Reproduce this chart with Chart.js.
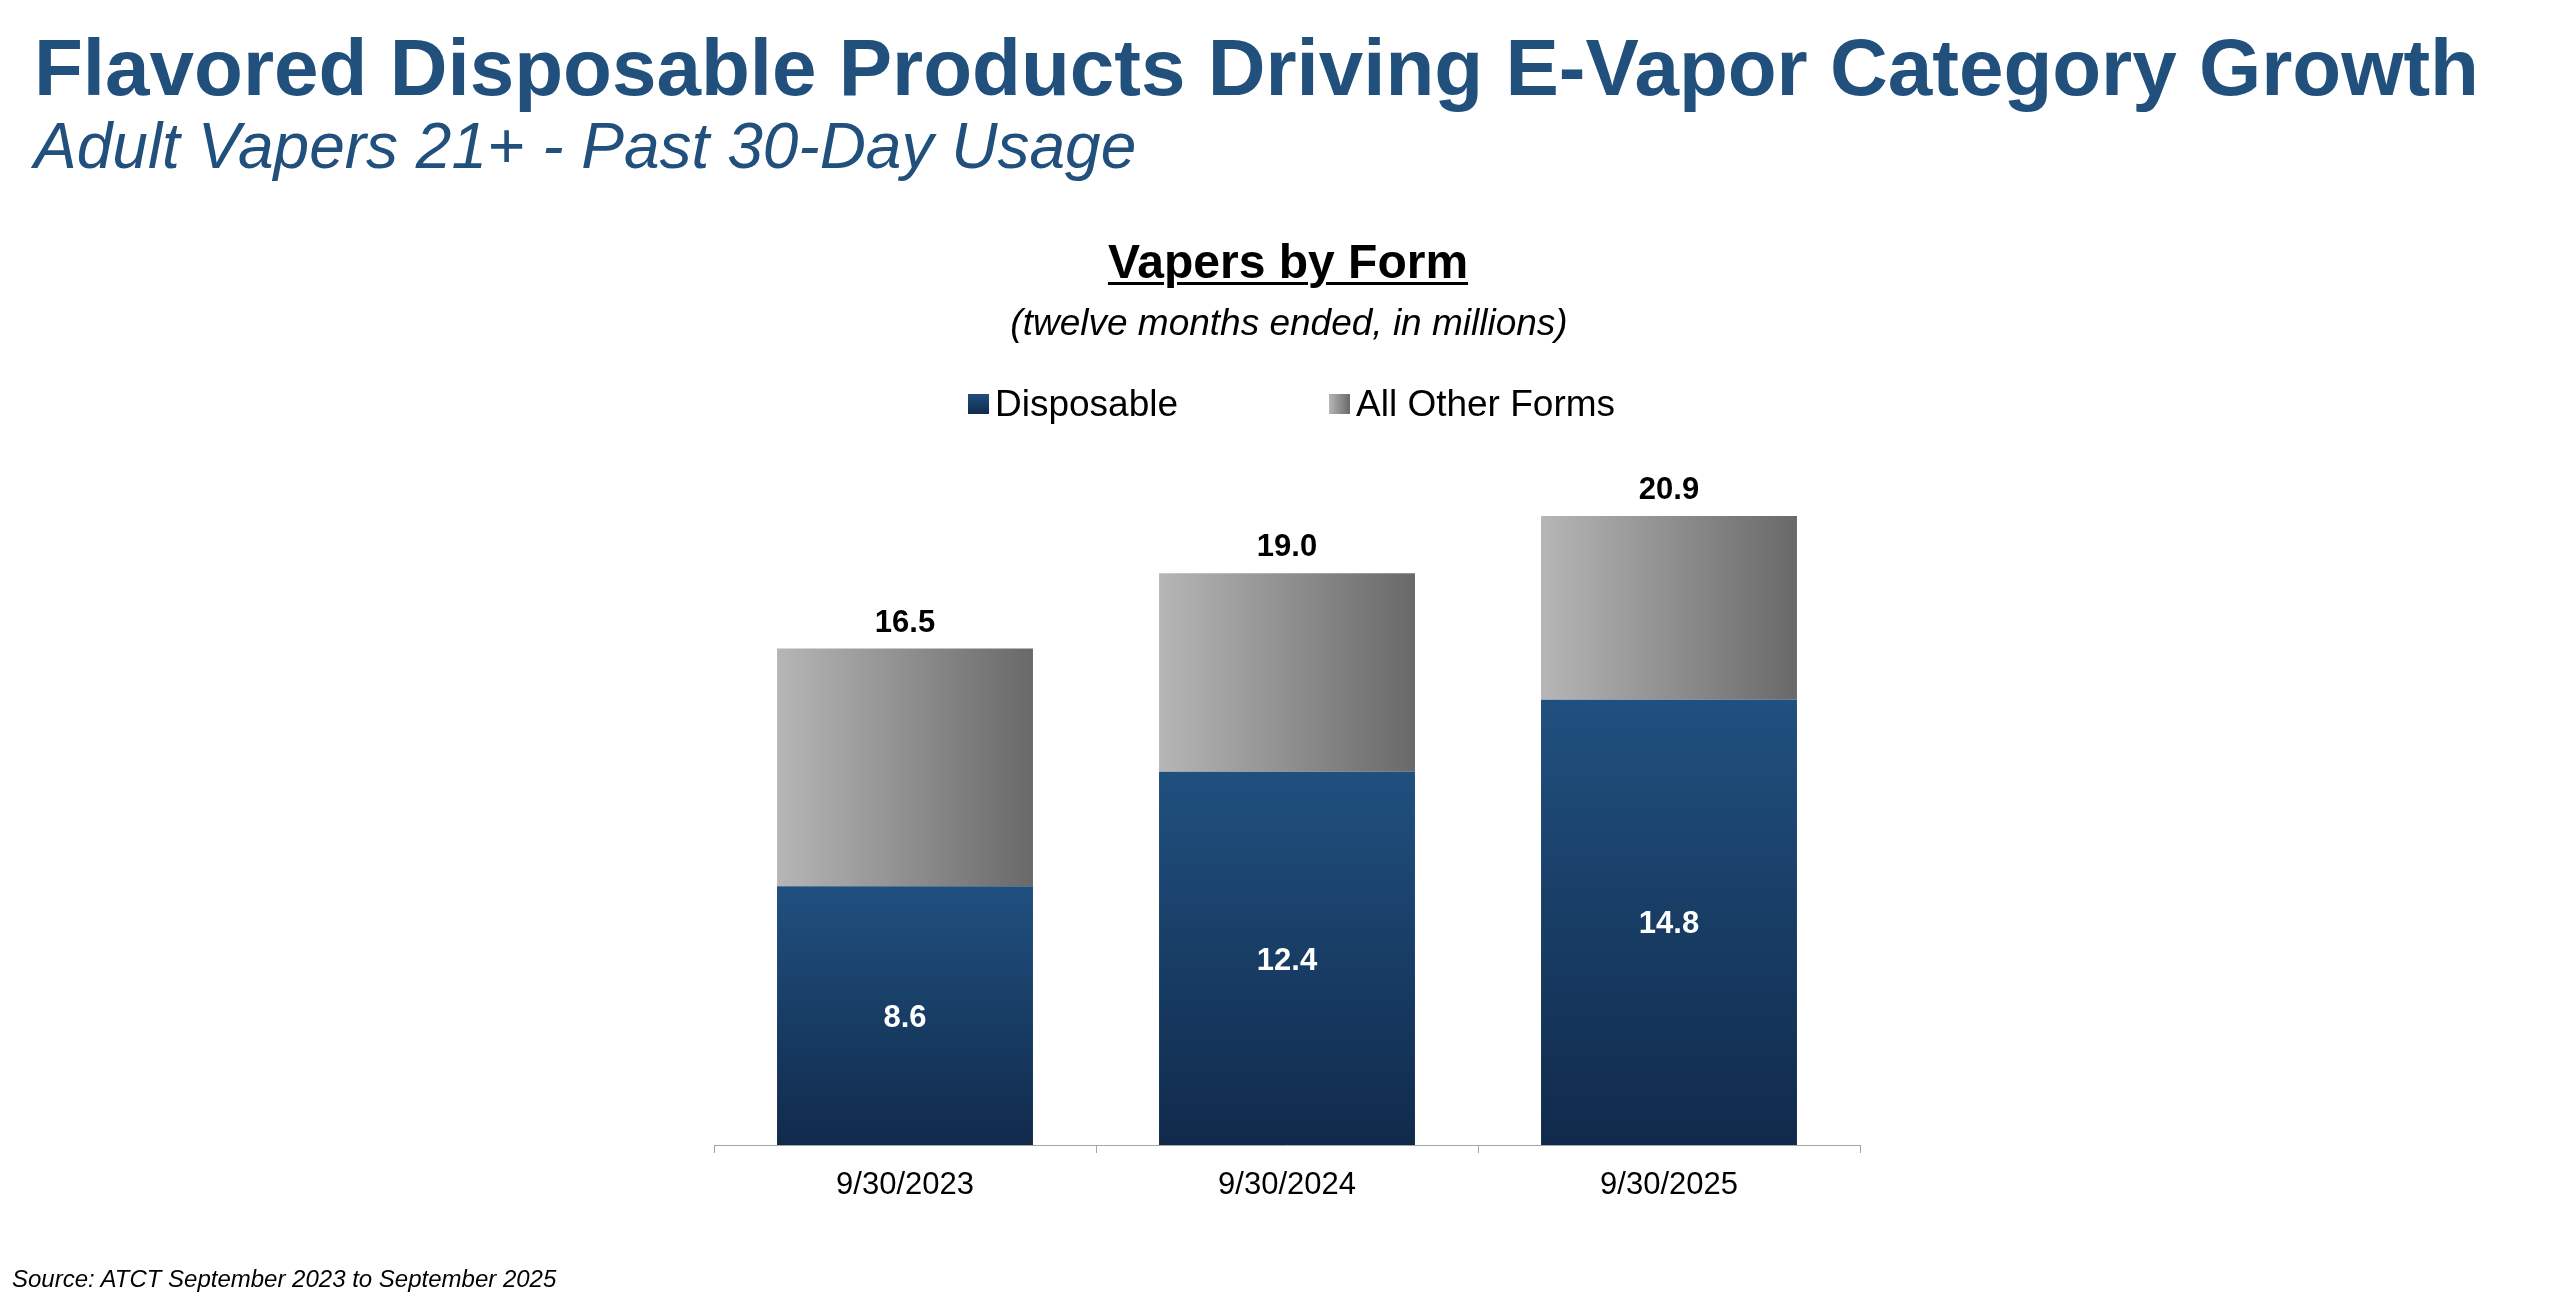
<!DOCTYPE html>
<html>
<head>
<meta charset="utf-8">
<title>Vapers by Form</title>
<script src="https://cdn.jsdelivr.net/npm/chart.js@4.4.1/dist/chart.umd.min.js"></script>
<style>
  html, body { margin: 0; padding: 0; background: #fff; overflow: hidden; }
  #slide { position: relative; width: 2552px; height: 1298px; font-family: "Liberation Sans", Arial, sans-serif; }
  #slide canvas { position: absolute; left: 0; top: 0; }
  .txt { position: absolute; line-height: 1; white-space: nowrap; margin: 0; }
  #title { left: 34px; top: 28px; font-size: 80px; font-weight: bold; color: #21507D; }
  #subtitle { left: 34px; top: 114px; font-size: 64px; font-style: italic; color: #21507D; }
  #chartTitle { left: 1288px; top: 238px; transform: translateX(-50%); font-size: 48px; font-weight: bold; color: #000; text-decoration: underline; text-decoration-thickness: 3px; text-underline-offset: 4px; }
  #chartNote { left: 1289px; top: 304px; transform: translateX(-50%); font-size: 37px; font-style: italic; color: #000; }
  .legend-item { position: absolute; top: 385px; font-size: 37px; line-height: 37px; color: #000; white-space: nowrap; }
  .legend-box { position: absolute; left: 0; top: 9px; width: 21px; height: 20px; }
  .legend-item span.lbl { padding-left: 27px; }
  #source { left: 12px; top: 1267px; font-size: 24px; font-style: italic; color: #000; }
</style>
</head>
<body>
<div id="slide">
  <canvas id="chart" width="2552" height="1298"></canvas>
  <div class="txt" id="title">Flavored Disposable Products Driving E-Vapor Category Growth</div>
  <div class="txt" id="subtitle">Adult Vapers 21+ - Past 30-Day Usage</div>
  <div class="txt" id="chartTitle">Vapers by Form</div>
  <div class="txt" id="chartNote">(twelve months ended, in millions)</div>
  <div id="legend"></div>
  <div class="txt" id="source">Source: ATCT September 2023 to September 2025</div>
</div>
<script>
// Chart data
const categories = ['9/30/2023', '9/30/2024', '9/30/2025'];
const seriesNames = ['Disposable', 'All Other Forms'];
const disposable = [8.6, 12.4, 14.8];
const otherForms = [7.9, 6.6, 6.1];
const totals = [16.5, 19.0, 20.9];

// Colours
const BLUE_TOP = '#20507F';
const BLUE_BOTTOM = '#102A4B';
const GRAY_LEFT = '#B6B6B6';
const GRAY_RIGHT = '#696969';
const AXIS_GRAY = '#A6A6A6';

const CATEGORY_PCT = 0.67;
const FONT = '"Liberation Sans", Arial, sans-serif';

// Vertical gradient per disposable bar
function disposableFill(context) {
  const chart = context.chart;
  if (!chart.chartArea || context.type !== 'data') return BLUE_TOP;
  const y = chart.scales.y;
  const top = y.getPixelForValue(disposable[context.dataIndex]);
  const bottom = y.getPixelForValue(0);
  const g = chart.ctx.createLinearGradient(0, top, 0, bottom);
  g.addColorStop(0, BLUE_TOP);
  g.addColorStop(1, BLUE_BOTTOM);
  return g;
}

// Horizontal gradient per "other forms" bar
function otherFormsFill(context) {
  const chart = context.chart;
  if (!chart.chartArea || context.type !== 'data') return GRAY_LEFT;
  const x = chart.scales.x;
  const center = x.getPixelForValue(context.dataIndex);
  const half = (x.width / categories.length) * CATEGORY_PCT / 2;
  const g = chart.ctx.createLinearGradient(center - half, 0, center + half, 0);
  g.addColorStop(0, GRAY_LEFT);
  g.addColorStop(1, GRAY_RIGHT);
  return g;
}

// Values inside the blue bars and totals above the stacks
const valueLabels = {
  id: 'valueLabels',
  afterDatasetsDraw(chart) {
    const ctx = chart.ctx;
    const inner = chart.getDatasetMeta(0).data;
    const outer = chart.getDatasetMeta(1).data;
    const size = 31;
    ctx.save();
    ctx.font = 'bold ' + size + 'px ' + FONT;
    ctx.textAlign = 'center';
    ctx.textBaseline = 'alphabetic';
    inner.forEach((bar, i) => {
      ctx.fillStyle = '#FFFFFF';
      ctx.fillText(disposable[i].toFixed(1), bar.x, (bar.y + bar.base) / 2 + size * 0.358);
    });
    outer.forEach((bar, i) => {
      ctx.fillStyle = '#000000';
      ctx.fillText(totals[i].toFixed(1), bar.x, bar.y - 17);
    });
    ctx.restore();
  }
};

// HTML legend
function renderLegend() {
  const legend = document.getElementById('legend');
  const items = [
    { left: 968, fill: 'linear-gradient(to bottom, ' + BLUE_TOP + ', ' + BLUE_BOTTOM + ')' },
    { left: 1329, fill: 'linear-gradient(to right, ' + GRAY_LEFT + ', ' + GRAY_RIGHT + ')' }
  ];
  legend.innerHTML = items.map((item, i) => `
    <div class="legend-item" style="left:${item.left}px">
      <div class="legend-box" style="background:${item.fill}"></div>
      <span class="lbl">${seriesNames[i]}</span>
    </div>`).join('');
}

function renderChart() {
  const ctx = document.getElementById('chart').getContext('2d');
  return new Chart(ctx, {
    type: 'bar',
    data: {
      labels: categories,
      datasets: [
        {
          label: seriesNames[0],
          data: disposable,
          backgroundColor: disposableFill,
          borderWidth: 0,
          categoryPercentage: CATEGORY_PCT,
          barPercentage: 1
        },
        {
          label: seriesNames[1],
          data: otherForms,
          backgroundColor: otherFormsFill,
          borderWidth: 0,
          categoryPercentage: CATEGORY_PCT,
          barPercentage: 1
        }
      ]
    },
    options: {
      responsive: false,
      animation: false,
      events: [],
      layout: {
        padding: { left: 714, right: 692, top: 483, bottom: 79.8 }
      },
      scales: {
        x: {
          stacked: true,
          grid: {
            display: true,
            drawOnChartArea: false,
            drawTicks: true,
            tickLength: 8,
            color: AXIS_GRAY,
            offset: true
          },
          border: { display: true, color: AXIS_GRAY, width: 1 },
          ticks: {
            color: '#000',
            padding: 14,
            font: { family: FONT, size: 31 }
          }
        },
        y: {
          stacked: true,
          display: false,
          min: 0,
          max: 22
        }
      },
      plugins: {
        legend: { display: false },
        title: { display: false },
        tooltip: { enabled: false }
      }
    },
    plugins: [valueLabels]
  });
}

renderLegend();
renderChart();
</script>
</body>
</html>
